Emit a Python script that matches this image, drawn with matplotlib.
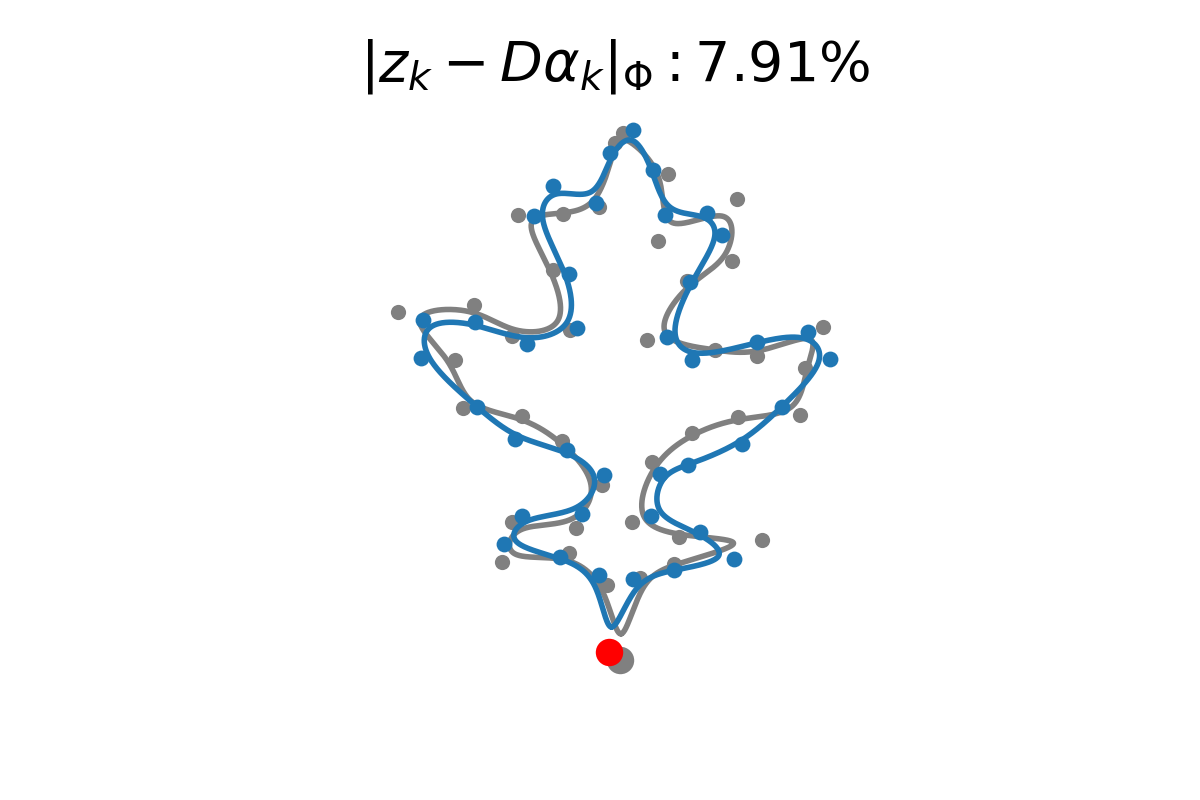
import numpy as np
import matplotlib
matplotlib.use("Agg")
import matplotlib.pyplot as plt

# Control points (image-pixel coordinates, y downward), in contour order
gray_x = [620, 640, 674, 762, 679, 632, 652, 692, 738, 800, 805, 823, 757, 715, 647,
          687, 732, 737, 658, 668, 623, 615, 599, 563, 518, 553, 570, 512, 474, 398,
          455, 463, 522, 562, 602, 576, 512, 502, 569, 607]
gray_y = [660, 578, 564, 540, 537, 522, 462, 433, 417, 415, 368, 327, 356, 350, 340,
          281, 261, 199, 241, 174, 133, 143, 207, 214, 215, 270, 330, 336, 305, 312,
          360, 408, 416, 441, 485, 528, 522, 562, 553, 585]

blue_x = [609, 633, 674, 734, 700, 651, 660, 688, 742, 782, 830, 808, 757, 692, 667,
          690, 722, 707, 665, 653, 633, 610, 596, 553, 534, 569, 577, 527, 475, 423,
          421, 477, 515, 567, 604, 582, 522, 504, 560, 599]
blue_y = [652, 579, 570, 559, 532, 516, 474, 465, 444, 407, 359, 332, 342, 360, 337,
          282, 235, 213, 215, 170, 130, 153, 203, 186, 216, 274, 328, 344, 322, 320,
          358, 407, 439, 450, 475, 514, 516, 544, 557, 575]

title = r"$|z_k - D\alpha_k|_\Phi: 7.91\%$"


def closed_bspline(px, py, n=60):
    P = np.column_stack([px, py]).astype(float)
    m = len(P)
    t = np.linspace(0, 1, n, endpoint=False)
    b0 = (1 - t) ** 3 / 6
    b1 = (3 * t ** 3 - 6 * t ** 2 + 4) / 6
    b2 = (-3 * t ** 3 + 3 * t ** 2 + 3 * t + 1) / 6
    b3 = t ** 3 / 6
    out = []
    for i in range(m):
        p0, p1, p2, p3 = P[(i - 1) % m], P[i], P[(i + 1) % m], P[(i + 2) % m]
        seg = (b0[:, None] * p0 + b1[:, None] * p1 + b2[:, None] * p2 + b3[:, None] * p3)
        out.append(seg)
    out = np.vstack(out)
    out = np.vstack([out, out[:1]])
    return out[:, 0], out[:, 1]


fig = plt.figure(figsize=(12, 8), dpi=100)
ax = fig.add_subplot(111)

gcx, gcy = closed_bspline(gray_x, gray_y)
bcx, bcy = closed_bspline(blue_x, blue_y)

ax.plot(gcx, gcy, color="gray", lw=4.0, zorder=1, solid_capstyle="round")
ax.scatter(gray_x[1:], gray_y[1:], s=120, color="gray", zorder=2, linewidths=0)
ax.scatter(gray_x[:1], gray_y[:1], s=390, color="gray", zorder=2, linewidths=0)
ax.plot(bcx, bcy, color="#1f77b4", lw=4.0, zorder=3, solid_capstyle="round")
ax.scatter(blue_x[1:], blue_y[1:], s=130, color="#1f77b4", zorder=4, linewidths=0)
ax.scatter(blue_x[:1], blue_y[:1], s=390, color="red", zorder=5, linewidths=0)

ax.set_xlim(150, 1080)
ax.set_ylim(712, 96)
ax.axis("off")
ax.set_title(title, fontsize=40)

fig.savefig("out.png", dpi=100)
